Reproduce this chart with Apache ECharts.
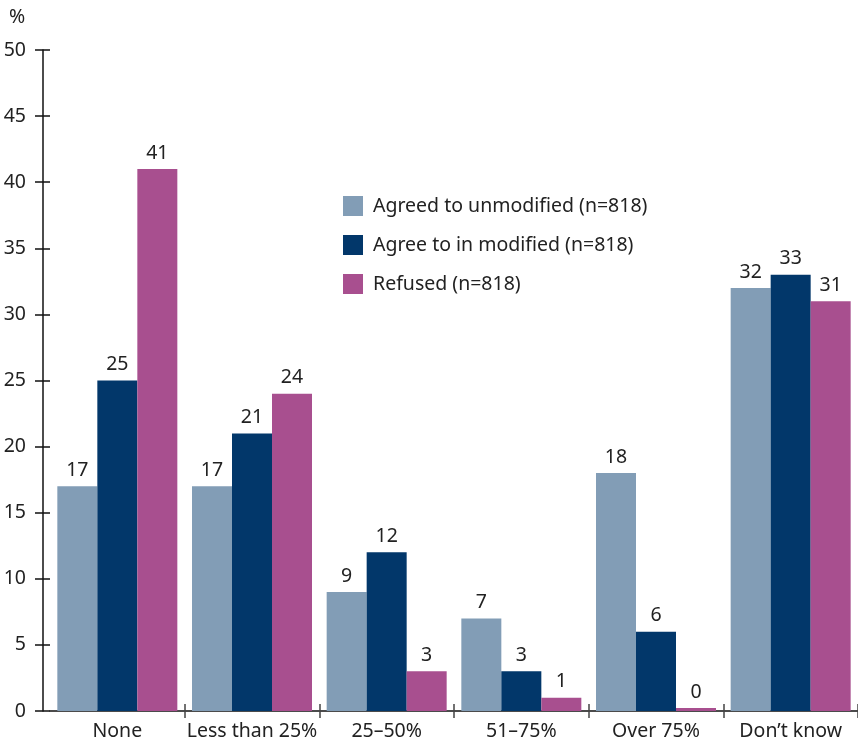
<!DOCTYPE html>
<html>
<head>
<meta charset="utf-8">
<script src="https://cdn.jsdelivr.net/npm/echarts@6/dist/echarts.min.js"></script>
<style>
  html, body { margin: 0; padding: 0; background: #fff; }
  #chart { width: 858px; height: 743px; }
</style>
</head>
<body>
<div id="chart"></div>
<script>
// Share of answers per category, in percent
const categories = ['None', 'Less than 25%', '25–50%', '51–75%', 'Over 75%', 'Don’t know'];
const seriesNames = ['Agreed to unmodified (n=818)', 'Agree to in modified (n=818)', 'Refused (n=818)'];
const agreedUnmodified = [17, 17, 9, 7, 18, 32];
const agreedModified = [25, 21, 12, 3, 6, 33];
const refused = [41, 24, 3, 1, 0, 31];
const yTicks = { min: 0, max: 50, interval: 5 };

const colors = ['#829db6', '#02376a', '#a84f8f'];
const fontFamily = '"Noto Sans", "Open Sans", sans-serif';
const textColor = '#222';
const fontSize = 19.5;

// boundary ticks only between categories, not at the plot edges
const innerTicks = function (index) { return index > 0 && index < categories.length; };

function barSeries(name, values, color) {
  return {
    name: name,
    type: 'bar',
    data: values,
    barWidth: 40,
    barGap: '0%',
    barMinHeight: 3,
    itemStyle: { color: color },
    label: {
      show: true,
      position: 'top',
      distance: 6,
      color: textColor,
      fontFamily: fontFamily,
      fontSize: fontSize
    }
  };
}

const chart = echarts.init(document.getElementById('chart'), null, { renderer: 'canvas' });
chart.setOption({
  animation: false,
  color: colors,
  title: {
    text: '%',
    left: 4,
    top: 2,
    textStyle: { color: textColor, fontFamily: fontFamily, fontSize: fontSize, fontWeight: 'normal' }
  },
  legend: {
    orient: 'vertical',
    left: 338,
    top: 191,
    itemWidth: 20,
    itemHeight: 20,
    itemGap: 19,
    icon: 'rect',
    data: seriesNames,
    textStyle: { color: textColor, fontFamily: fontFamily, fontSize: fontSize, padding: [0, 0, 0, 5] }
  },
  grid: { left: 50, right: 0, top: 50, bottom: 32, containLabel: false },
  xAxis: [{
    type: 'category',
    data: categories,
    position: 'bottom',
    axisLine: { show: true, lineStyle: { color: '#111', width: 1.5 } },
    axisTick: { show: true, interval: innerTicks, length: 7, lineStyle: { color: '#444', width: 1.5 } },
    axisLabel: { interval: 0, color: textColor, fontFamily: fontFamily, fontSize: fontSize, margin: 10 }
  }, {
    type: 'category',
    data: categories,
    position: 'bottom',
    axisLine: { show: false },
    axisTick: { show: true, interval: innerTicks, inside: true, length: 7, lineStyle: { color: '#444', width: 1.5 } },
    axisLabel: { show: false }
  }],
  yAxis: [{
    type: 'value',
    min: yTicks.min,
    max: yTicks.max,
    interval: yTicks.interval,
    position: 'left',
    offset: 7,
    splitLine: { show: false },
    axisLine: { show: true, lineStyle: { color: '#111', width: 1.5 } },
    axisTick: { show: true, length: 8, lineStyle: { color: '#111', width: 1.5 } },
    axisLabel: { color: textColor, fontFamily: fontFamily, fontSize: fontSize, margin: 17 }
  }, {
    type: 'value',
    min: yTicks.min,
    max: yTicks.max,
    interval: yTicks.interval,
    position: 'left',
    offset: 7,
    splitLine: { show: false },
    axisLine: { show: false },
    axisTick: { show: true, inside: true, length: 7, lineStyle: { color: '#111', width: 1.5 } },
    axisLabel: { show: false }
  }],
  series: [
    barSeries(seriesNames[0], agreedUnmodified, colors[0]),
    barSeries(seriesNames[1], agreedModified, colors[1]),
    barSeries(seriesNames[2], refused, colors[2])
  ]
});
</script>
</body>
</html>
